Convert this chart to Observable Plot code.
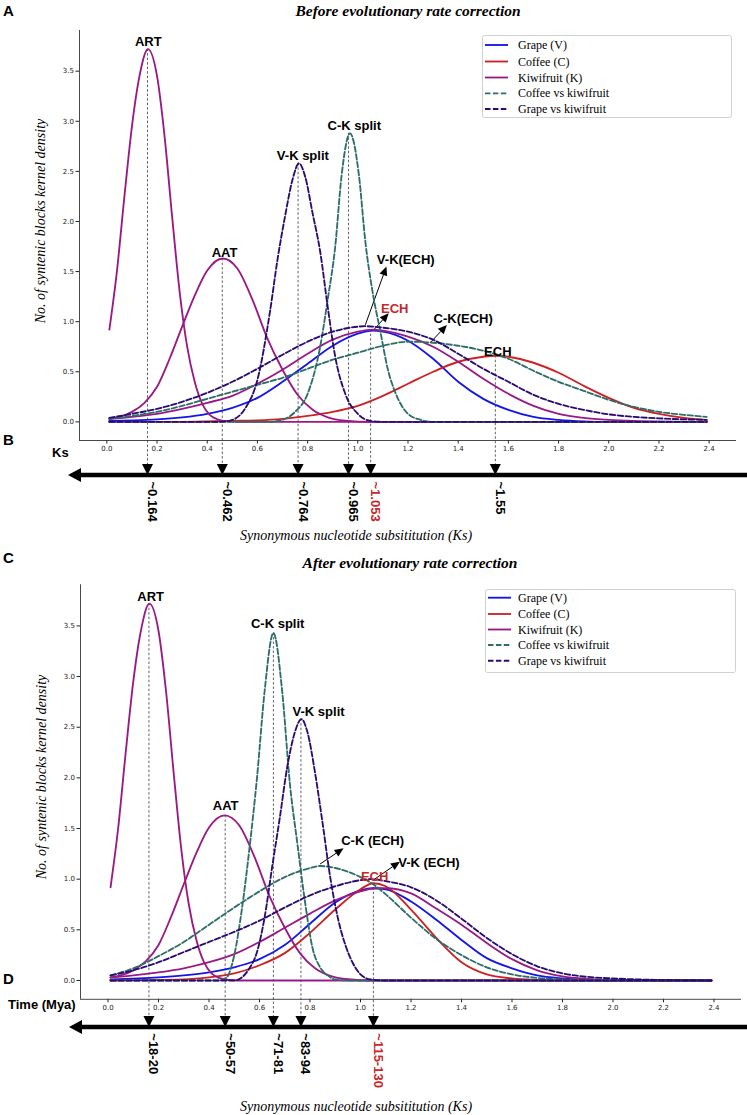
<!DOCTYPE html>
<html>
<head>
<meta charset="utf-8">
<script src="https://cdn.jsdelivr.net/npm/d3@7"></script>
<script src="https://cdn.jsdelivr.net/npm/@observablehq/plot@0.6"></script>
<style>
html,body{margin:0;padding:0;background:#fff;}
#page{position:relative;width:747px;height:1115px;overflow:hidden;background:#fff;}
#page > svg{position:absolute;left:0;}
</style>
</head>
<body>
<div id="page"></div>
<script>
// ---------------- DATA ----------------
const xTicks = [0, 0.2, 0.4, 0.6, 0.8, 1.0, 1.2, 1.4, 1.6, 1.8, 2.0, 2.2, 2.4];
const yTicks = [0, 0.5, 1.0, 1.5, 2.0, 2.5, 3.0, 3.5];
const legendNames = ["Grape (V)", "Coffee (C)", "Kiwifruit (K)", "Coffee vs kiwifruit", "Grape vs kiwifruit"];

// Kiwifruit (K) components, same in both panels
const K_ART = [[0.01,0.92],[0.04,1.5],[0.07,2.25],[0.10,2.95],[0.13,3.45],[0.164,3.72],[0.20,3.45],[0.23,2.85],[0.26,2.05],[0.29,1.30],[0.32,0.75],[0.35,0.40],[0.38,0.18],[0.41,0.07],[0.44,0.025],[0.48,0.005],[0.55,0],[2.39,0]];
const K_AAT = [[0.01,0.03],[0.05,0.05],[0.10,0.10],[0.15,0.19],[0.20,0.35],[0.25,0.63],[0.30,0.95],[0.35,1.26],[0.40,1.51],[0.462,1.63],[0.52,1.53],[0.58,1.22],[0.64,0.83],[0.70,0.52],[0.76,0.27],[0.82,0.12],[0.88,0.045],[0.95,0.012],[1.05,0],[2.39,0]];

// Panel A: before correction
const A_grape = [[0.01,0.01],[0.1,0.015],[0.2,0.025],[0.3,0.045],[0.4,0.08],[0.5,0.14],[0.6,0.24],[0.7,0.40],[0.8,0.58],[0.9,0.76],[1.0,0.88],[1.06,0.91],[1.1,0.90],[1.2,0.81],[1.3,0.63],[1.4,0.40],[1.5,0.23],[1.6,0.12],[1.7,0.05],[1.8,0.02],[1.9,0.005],[2.0,0],[2.39,0]];
const A_coffee = [[0.01,0],[0.3,0],[0.5,0.01],[0.6,0.015],[0.7,0.03],[0.8,0.06],[0.9,0.10],[1.0,0.16],[1.1,0.26],[1.2,0.38],[1.3,0.50],[1.4,0.60],[1.5,0.65],[1.55,0.66],[1.6,0.65],[1.7,0.59],[1.8,0.49],[1.9,0.36],[2.0,0.24],[2.1,0.14],[2.2,0.08],[2.3,0.04],[2.39,0.02]];
const A_kiwiECH = [[0.01,0.03],[0.1,0.05],[0.2,0.08],[0.3,0.13],[0.4,0.19],[0.5,0.26],[0.6,0.38],[0.7,0.52],[0.8,0.68],[0.9,0.82],[1.0,0.90],[1.06,0.92],[1.1,0.91],[1.2,0.85],[1.3,0.75],[1.4,0.60],[1.5,0.43],[1.6,0.28],[1.7,0.16],[1.8,0.08],[1.9,0.04],[2.0,0.02],[2.1,0.01],[2.39,0]];
const A_cvkSplit = [[0.01,0],[0.65,0],[0.70,0.02],[0.75,0.10],[0.80,0.28],[0.85,0.75],[0.88,1.22],[0.91,1.75],[0.935,2.45],[0.969,2.88],[1.005,2.45],[1.03,1.80],[1.06,1.28],[1.09,0.90],[1.12,0.52],[1.15,0.29],[1.20,0.08],[1.25,0.02],[1.3,0],[2.39,0]];
const A_cvkECH = [[0.01,0.03],[0.1,0.06],[0.2,0.10],[0.3,0.16],[0.4,0.23],[0.5,0.30],[0.6,0.37],[0.7,0.44],[0.8,0.53],[0.9,0.62],[1.0,0.69],[1.1,0.76],[1.2,0.80],[1.3,0.79],[1.4,0.76],[1.5,0.71],[1.6,0.63],[1.7,0.51],[1.8,0.40],[1.9,0.31],[2.0,0.22],[2.1,0.15],[2.2,0.10],[2.3,0.07],[2.39,0.05]];
const A_gvkSplit = [[0.01,0],[0.45,0],[0.50,0.02],[0.55,0.13],[0.60,0.42],[0.65,1.10],[0.68,1.62],[0.71,2.05],[0.74,2.42],[0.766,2.58],[0.79,2.45],[0.82,2.08],[0.85,1.70],[0.88,1.15],[0.91,0.65],[0.95,0.28],[1.00,0.08],[1.05,0.01],[1.1,0],[2.39,0]];
const A_gvkECH = [[0.01,0.04],[0.1,0.08],[0.2,0.13],[0.3,0.20],[0.4,0.29],[0.5,0.40],[0.6,0.53],[0.7,0.67],[0.8,0.80],[0.9,0.90],[1.0,0.95],[1.03,0.955],[1.1,0.94],[1.2,0.90],[1.3,0.82],[1.4,0.68],[1.5,0.53],[1.6,0.40],[1.7,0.27],[1.8,0.18],[1.9,0.12],[2.0,0.075],[2.1,0.05],[2.2,0.035],[2.3,0.025],[2.39,0.02]];

// Panel C: after correction
const C_grape = [[0.01,0.01],[0.2,0.03],[0.3,0.05],[0.4,0.08],[0.5,0.13],[0.6,0.21],[0.7,0.35],[0.8,0.56],[0.9,0.77],[1.0,0.89],[1.05,0.91],[1.1,0.90],[1.2,0.78],[1.3,0.60],[1.4,0.40],[1.5,0.22],[1.6,0.12],[1.7,0.05],[1.8,0.02],[1.9,0.005],[2.0,0],[2.39,0]];
const C_coffee = [[0.01,0],[0.3,0.01],[0.4,0.03],[0.5,0.07],[0.6,0.15],[0.7,0.27],[0.8,0.47],[0.9,0.70],[1.0,0.90],[1.05,0.96],[1.1,0.93],[1.2,0.70],[1.3,0.42],[1.4,0.18],[1.5,0.06],[1.6,0.02],[1.7,0.005],[1.8,0],[2.39,0]];
const C_kiwiECH = [[0.01,0.03],[0.1,0.05],[0.2,0.08],[0.3,0.12],[0.4,0.18],[0.5,0.26],[0.6,0.38],[0.7,0.52],[0.8,0.66],[0.9,0.79],[1.0,0.88],[1.06,0.91],[1.1,0.91],[1.2,0.86],[1.3,0.71],[1.4,0.55],[1.5,0.37],[1.6,0.21],[1.7,0.10],[1.8,0.04],[1.9,0.015],[2.0,0.005],[2.39,0]];
const C_cvkSplit = [[0.01,0],[0.44,0],[0.47,0.03],[0.50,0.25],[0.53,0.70],[0.56,1.30],[0.59,2.00],[0.62,2.85],[0.655,3.43],[0.69,2.85],[0.72,1.95],[0.75,1.35],[0.78,0.78],[0.81,0.32],[0.84,0.13],[0.87,0.05],[0.90,0.01],[0.95,0],[2.39,0]];
const C_cvkECH = [[0.01,0.05],[0.1,0.12],[0.2,0.24],[0.3,0.38],[0.4,0.55],[0.5,0.72],[0.6,0.88],[0.7,1.02],[0.8,1.11],[0.84,1.13],[0.9,1.11],[1.0,1.02],[1.05,0.95],[1.1,0.85],[1.2,0.62],[1.3,0.41],[1.4,0.25],[1.5,0.13],[1.6,0.06],[1.7,0.025],[1.8,0.01],[1.9,0],[2.39,0]];
const C_gvkSplit = [[0.01,0],[0.5,0],[0.53,0.03],[0.56,0.12],[0.59,0.28],[0.62,0.62],[0.65,1.12],[0.68,1.60],[0.71,2.11],[0.74,2.45],[0.766,2.58],[0.79,2.45],[0.82,2.05],[0.85,1.55],[0.88,1.02],[0.91,0.62],[0.94,0.35],[0.97,0.17],[1.0,0.06],[1.04,0.01],[1.1,0],[2.39,0]];
const C_gvkECH = [[0.01,0.05],[0.1,0.10],[0.2,0.18],[0.3,0.28],[0.4,0.38],[0.5,0.48],[0.6,0.59],[0.7,0.72],[0.8,0.84],[0.9,0.93],[1.0,0.99],[1.04,1.0],[1.1,0.98],[1.2,0.92],[1.3,0.79],[1.4,0.61],[1.5,0.42],[1.6,0.26],[1.7,0.14],[1.8,0.07],[1.9,0.035],[2.0,0.02],[2.1,0.01],[2.2,0.005],[2.39,0]];

// Timeline markers (Ks of each event, peak height, label)
const A_markKs = [0.164, 0.462, 0.764, 0.965, 1.053, 1.55];
const A_markPeak = [3.72, 1.63, 2.58, 2.88, 0.92, 0.66];
const A_markLabel = ["~0.164", "~0.462", "~0.764", "~0.965", "~1.053", "~1.55"];
const C_markKs = [0.164, 0.466, 0.657, 0.766, 1.053];
const C_markPeak = [3.72, 1.63, 3.43, 2.58, 0.96];
const C_markLabel = ["~18-20", "~50-57", "~71-81", "~83-94", "~115-130"];

// Event annotations
const A_annText = ["ART", "AAT", "V-K split", "C-K split", "V-K(ECH)", "ECH", "C-K(ECH)", "ECH"];
const C_annText = ["ART", "AAT", "C-K split", "V-K split", "C-K (ECH)", "V-K (ECH)", "ECH"];

// ---------------- LAYOUT / STYLE ----------------
const COL = {grape: "#1414ec", coffee: "#cc2222", kiwi: "#991a85", cvk: "#2e6e69", gvk: "#2a0c70", red: "#c62828", ink: "#000"};
const xDomain = [-0.109, 2.509];
const yDomain = [-0.186, 3.906];
const SANS = "Liberation Sans, Arial, sans-serif";
const SERIF = "Liberation Serif, Times New Roman, serif";
const LW = 1.85;

const A_annPos = [[0.165,3.79],[0.469,1.69],[0.781,2.66],[0.986,2.95],[1.191,1.62],[1.147,1.13],[1.42,1.03],[1.558,0.70]];
const A_annColor = ["ink","ink","ink","ink","ink","red","ink","ink"];
const C_annPos = [[0.169,3.79],[0.466,1.72],[0.672,3.52],[0.834,2.655],[1.048,1.375],[1.271,1.164],[1.056,1.027]];
const C_annColor = ["ink","ink","ink","ink","ink","ink","red"];
const A_arrows = [[1.032,0.963,1.116,1.546],[1.068,0.92,1.125,1.08],[1.291,0.786,1.357,0.963]];
const C_arrows = [[0.842,1.145,0.935,1.30],[1.053,0.987,1.158,1.168]];

const panels = [
  {top: 0, height: 545, mt: 30, mb: 105, ml: 79, mr: 11, lineOff: 35, labelOff: 41,
   solid: [["g", COL.grape, A_grape], ["c", COL.coffee, A_coffee], ["k1", COL.kiwi, K_ART], ["k2", COL.kiwi, K_AAT], ["k3", COL.kiwi, A_kiwiECH]],
   dashed: [["ck1", COL.cvk, A_cvkSplit], ["ck2", COL.cvk, A_cvkECH], ["gk1", COL.gvk, A_gvkSplit], ["gk2", COL.gvk, A_gvkECH]],
   markKs: A_markKs, markPeak: A_markPeak, markLabel: A_markLabel, redMark: 4,
   annText: A_annText, annPos: A_annPos, annColor: A_annColor, arrows: A_arrows},
  {top: 545, height: 570, mt: 39.3, mb: 116.2, ml: 80, mr: 6, lineOff: 28.2, labelOff: 34,
   solid: [["g", COL.grape, C_grape], ["c", COL.coffee, C_coffee], ["k1", COL.kiwi, K_ART], ["k2", COL.kiwi, K_AAT], ["k3", COL.kiwi, C_kiwiECH]],
   dashed: [["ck1", COL.cvk, C_cvkSplit], ["ck2", COL.cvk, C_cvkECH], ["gk1", COL.gvk, C_gvkSplit], ["gk2", COL.gvk, C_gvkECH]],
   markKs: C_markKs, markPeak: C_markPeak, markLabel: C_markLabel, redMark: 4,
   annText: C_annText, annPos: C_annPos, annColor: C_annColor, arrows: C_arrows}
];

function toRows(list) {
  return list.flatMap(([id, color, pts]) => pts.map(([ks, d]) => ({id, color, ks, d})));
}

function decor(p) {
  return (index, scales, values, dims) => {
    const x = scales.x, y = scales.y;
    const fb = dims.height - dims.marginBottom;
    const ly = fb + p.lineOff;
    const g = d3.create("svg:g");
    p.markKs.forEach((k, i) => {
      g.append("line").attr("x1", x(k)).attr("x2", x(k)).attr("y1", y(p.markPeak[i])).attr("y2", ly - 8)
        .attr("stroke", "#3a3a3a").attr("stroke-width", 0.8).attr("stroke-dasharray", "2.5,2");
    });
    const ax = dims.marginLeft - 11;
    g.append("line").attr("x1", ax + 10).attr("x2", dims.width).attr("y1", ly).attr("y2", ly)
      .attr("stroke", "#000").attr("stroke-width", 4.3);
    g.append("path").attr("d", `M${ax},${ly}L${ax + 13},${ly - 7}L${ax + 13},${ly + 7}Z`).attr("fill", "#000");
    p.markKs.forEach(k => {
      const cx = x(k);
      g.append("path").attr("d", `M${cx - 5.5},${ly - 11}L${cx + 5.5},${ly - 11}L${cx},${ly}Z`).attr("fill", "#000");
    });
    p.arrows.forEach(([a1, b1, a2, b2]) => {
      const x1 = x(a1), y1 = y(b1), x2 = x(a2), y2 = y(b2);
      const ang = Math.atan2(y2 - y1, x2 - x1), L = 9, W = 4;
      const bx = x2 - L * Math.cos(ang), by = y2 - L * Math.sin(ang);
      g.append("line").attr("x1", x1).attr("y1", y1).attr("x2", bx).attr("y2", by).attr("stroke", "#000").attr("stroke-width", 1);
      g.append("path").attr("d", `M${x2},${y2}L${bx - W * Math.sin(ang)},${by + W * Math.cos(ang)}L${bx + W * Math.sin(ang)},${by - W * Math.cos(ang)}Z`).attr("fill", "#000");
    });
    return g.node();
  };
}

const page = document.getElementById("page");

panels.forEach(p => {
  const marks = p.markKs.map((k, i) => ({ks: k, label: p.markLabel[i], color: i === p.redMark ? COL.red : "#000"}));
  const ann = p.annText.map((t, i) => ({text: t, x: p.annPos[i][0], y: p.annPos[i][1], color: COL[p.annColor[i]]}));
  const chart = Plot.plot({
    width: 747, height: p.height,
    marginTop: p.mt, marginBottom: p.mb, marginLeft: p.ml, marginRight: p.mr,
    x: {domain: xDomain, ticks: xTicks, tickFormat: d => d.toFixed(1), tickSize: 3.5, tickPadding: 2, label: null},
    y: {domain: yDomain, ticks: yTicks, tickFormat: d => d.toFixed(1), tickSize: 3.5, tickPadding: 2, label: null},
    color: {type: "identity"},
    style: {fontFamily: "DejaVu Sans, sans-serif", fontSize: "7px", color: "#222", background: "transparent", overflow: "visible"},
    marks: [
      Plot.ruleX([xDomain[0]], {stroke: "#333", strokeWidth: 0.9}),
      Plot.ruleY([yDomain[0]], {stroke: "#333", strokeWidth: 0.9}),
      decor(p),
      Plot.line(toRows(p.solid), {x: "ks", y: "d", z: "id", stroke: "color", strokeWidth: LW, curve: "monotone-x"}),
      Plot.line(toRows(p.dashed), {x: "ks", y: "d", z: "id", stroke: "color", strokeWidth: LW, strokeDasharray: "5.5,2.4", curve: "monotone-x"}),
      Plot.text(ann, {x: "x", y: "y", text: "text", fill: "color", fontFamily: SANS, fontWeight: "bold", fontSize: 13}),
      Plot.text(marks, {x: "ks", text: "label", fill: "color", frameAnchor: "bottom", dy: p.labelOff, rotate: 90, textAnchor: "start", fontFamily: SANS, fontWeight: "bold", fontSize: 13})
    ]
  });
  chart.style.top = p.top + "px";
  page.appendChild(chart);
});

// ---------------- overlay texts and legends ----------------
const ov = d3.select(page).append("svg").attr("width", 747).attr("height", 1115).style("top", "0px").style("pointer-events", "none");
const txt = (s, x, y, o = {}) => ov.append("text").attr("x", x).attr("y", y).text(s)
  .attr("font-family", o.family || SANS).attr("font-size", o.size || 13).attr("font-weight", o.weight || "normal")
  .attr("font-style", o.style || "normal").attr("text-anchor", o.anchor || "start").attr("fill", o.fill || "#000")
  .attr("transform", o.rotate ? `rotate(${o.rotate},${x},${y})` : null);

txt("A", 3, 15.5, {weight: "bold", size: 15});
txt("Before evolutionary rate correction", 408, 15.5, {family: SERIF, weight: "bold", style: "italic", size: 15.5, anchor: "middle"});
txt("B", 3, 445, {weight: "bold", size: 15});
txt("Ks", 52, 456.7, {weight: "bold", size: 13});
txt("Synonymous nucleotide subsititution (Ks)", 356, 540, {family: SERIF, style: "italic", size: 14, anchor: "middle"});
txt("No. of syntenic blocks kernel density", 44.5, 221, {family: SERIF, style: "italic", size: 14, anchor: "middle", rotate: -90});

txt("C", 3, 562.7, {weight: "bold", size: 15});
txt("After evolutionary rate correction", 410, 568.3, {family: SERIF, weight: "bold", style: "italic", size: 15.5, anchor: "middle"});
txt("D", 3, 984, {weight: "bold", size: 15});
txt("Time (Mya)", 8, 1008.5, {weight: "bold", size: 13});
txt("Synonymous nucleotide subsititution (Ks)", 356, 1110.5, {family: SERIF, style: "italic", size: 14, anchor: "middle"});
txt("No. of syntenic blocks kernel density", 46, 777, {family: SERIF, style: "italic", size: 14, anchor: "middle", rotate: -90});

const legendStyles = [[COL.grape, null], [COL.coffee, null], [COL.kiwi, null], [COL.cvk, "5.5,2.4"], [COL.gvk, "5.5,2.4"]];
function legend(x, y, w, h, rows, lx1, lx2, tx) {
  ov.append("rect").attr("x", x).attr("y", y).attr("width", w).attr("height", h).attr("rx", 2)
    .attr("fill", "#fff").attr("stroke", "#d0d0d0").attr("stroke-width", 1);
  legendNames.forEach((n, i) => {
    const [c, dash] = legendStyles[i];
    ov.append("line").attr("x1", lx1).attr("x2", lx2).attr("y1", rows[i]).attr("y2", rows[i])
      .attr("stroke", c).attr("stroke-width", LW).attr("stroke-dasharray", dash);
    txt(n, tx, rows[i] + 4, {family: SERIF, size: 12});
  });
}
legend(482.5, 35.5, 249, 82, [45, 61.5, 77.5, 93.3, 109], 485, 508, 518);
legend(485.5, 589.5, 250, 83, [597.7, 614, 629.5, 645, 660.7], 488, 511, 518);
</script>
</body>
</html>
